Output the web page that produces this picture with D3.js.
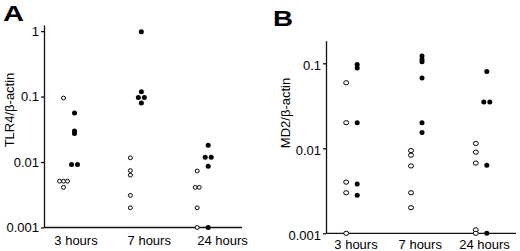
<!DOCTYPE html>
<html>
<head>
<meta charset="utf-8">
<script src="https://cdn.jsdelivr.net/npm/d3@7/dist/d3.min.js"></script>
<style>
  html, body { margin: 0; padding: 0; background: #fff; }
  svg { display: block; }
  text { font-family: "Liberation Sans", Arial, sans-serif; fill: #000; }
</style>
</head>
<body>
<svg id="chart" width="520" height="251"></svg>
<script>
// ---------- data ----------
const categories = ["3 hours", "7 hours", "24 hours"];

// Panel A: TLR4/β-actin (open = one group, filled = other group), per time point
const tlr4Open = [
  [0.095, 0.0051, 0.0051, 0.0051, 0.0041],
  [0.0116, 0.0074, 0.0063, 0.0031, 0.0020],
  [0.0073, 0.0041, 0.0041, 0.0020, 0.001]
];
const tlr4Filled = [
  [0.056, 0.0297, 0.0274, 0.0092, 0.0092],
  [0.98, 0.118, 0.097, 0.097, 0.080],
  [0.018, 0.0118, 0.0118, 0.0086, 0.001]
];

// Panel B: MD2/β-actin
const md2Open = [
  [0.059, 0.020, 0.0040, 0.0030, 0.001],
  [0.0094, 0.0083, 0.0062, 0.0030, 0.0020],
  [0.0114, 0.0090, 0.0067, 0.0011, 0.001]
];
const md2Filled = [
  [0.097, 0.088, 0.020, 0.0038, 0.0028],
  [0.122, 0.111, 0.104, 0.067, 0.020, 0.0153],
  [0.080, 0.035, 0.035, 0.0063, 0.001]
];

const tlr4Ticks = [0.001, 0.01, 0.1, 1];
const tlr4TickLabels = ["0.001", "0.01", "0.1", "1"];
const md2Ticks = [0.001, 0.01, 0.1];
const md2TickLabels = ["0.001", "0.01", "0.1"];

// ---------- drawing ----------
const svg = d3.select("#chart");

function panel(cfg) {
  const g = svg.append("g");
  const y = d3.scaleLog().domain([0.001, cfg.yMax]).range([cfg.bottom, cfg.top]);
  const xLab = d3.scalePoint().domain(categories).range(cfg.labelRange);
  const xDot = d3.scalePoint().domain(categories).range(cfg.dotRange);

  // y axis
  const yAxis = d3.axisLeft(y)
    .tickValues(cfg.ticks)
    .tickFormat((d, i) => cfg.tickLabels[i])
    .tickSize(3).tickSizeOuter(0).tickPadding(2);
  const ya = g.append("g").attr("transform", `translate(${cfg.left},0)`).call(yAxis);
  ya.selectAll("path, line").attr("stroke", "#111").attr("stroke-width", 1.3);
  ya.selectAll("text").style("font-size", "13px").attr("dy", cfg.tickDy);

  // x baseline
  g.append("line")
    .attr("x1", cfg.left).attr("x2", cfg.right)
    .attr("y1", cfg.bottom).attr("y2", cfg.bottom)
    .attr("stroke", "#111").attr("stroke-width", 1.3);

  // x labels
  const xa = g.append("g").attr("transform", `translate(0,${cfg.bottom})`)
    .call(d3.axisBottom(xLab).tickSize(0).tickPadding(cfg.xPad));
  xa.select(".domain").remove();
  xa.selectAll("text").style("font-size", "13px");

  // y title
  g.append("text")
    .attr("transform", `translate(${cfg.titleX},${cfg.titleY}) rotate(-90)`)
    .attr("text-anchor", "middle")
    .style("font-size", "13px")
    .text(cfg.title);

  // panel letter
  g.append("text")
    .attr("x", cfg.letterX).attr("y", cfg.letterY)
    .attr("textLength", cfg.letterW).attr("lengthAdjust", "spacingAndGlyphs")
    .style("font-size", "22px").style("font-weight", "bold")
    .text(cfg.letter);

  // points with dodge for tied values
  function series(values, offset, spacing, filled) {
    const pts = [];
    values.forEach((arr, ci) => {
      const counts = d3.rollup(arr, v => v.length, d => d);
      const seen = new Map();
      arr.forEach(v => {
        const n = counts.get(v);
        const k = seen.get(v) || 0;
        seen.set(v, k + 1);
        pts.push({ cat: categories[ci], v, dx: (k - (n - 1) / 2) * spacing });
      });
    });
    const sel = g.append("g").selectAll("ellipse").data(pts).join("ellipse")
      .attr("cx", d => xDot(d.cat) + offset + d.dx)
      .attr("cy", d => y(d.v));
    if (filled) {
      sel.attr("rx", 2.5).attr("ry", 2.5).attr("fill", "#000");
    } else {
      sel.attr("rx", cfg.openRx).attr("ry", cfg.openRy)
        .attr("fill", "#fff").attr("stroke", "#000").attr("stroke-width", 1);
    }
  }
  series(cfg.open, -5.5, 4, false);
  series(cfg.filled, 5.5, 6, true);
}

panel({
  left: 44, right: 242, top: 25, bottom: 227.5, yMax: 1.24,
  ticks: tlr4Ticks, tickLabels: tlr4TickLabels, tickDy: "0.32em",
  labelRange: [75.5, 222], dotRange: [69, 202.7], xPad: 8,
  title: "TLR4/β-actin", titleX: 13.5, titleY: 110,
  letter: "A", letterX: 3, letterY: 20.7, letterW: 21,
  open: tlr4Open, filled: tlr4Filled, openRx: 2.0, openRy: 1.9
});

panel({
  left: 326, right: 516, top: 40.7, bottom: 233.3, yMax: 0.1845,
  ticks: md2Ticks, tickLabels: md2TickLabels, tickDy: "0.5em",
  labelRange: [355.5, 484], dotRange: [351.7, 481.3], xPad: 6,
  title: "MD2/β-actin", titleX: 290, titleY: 113,
  letter: "B", letterX: 273, letterY: 26, letterW: 20,
  open: md2Open, filled: md2Filled, openRx: 2.5, openRy: 2.1
});
</script>
</body>
</html>
